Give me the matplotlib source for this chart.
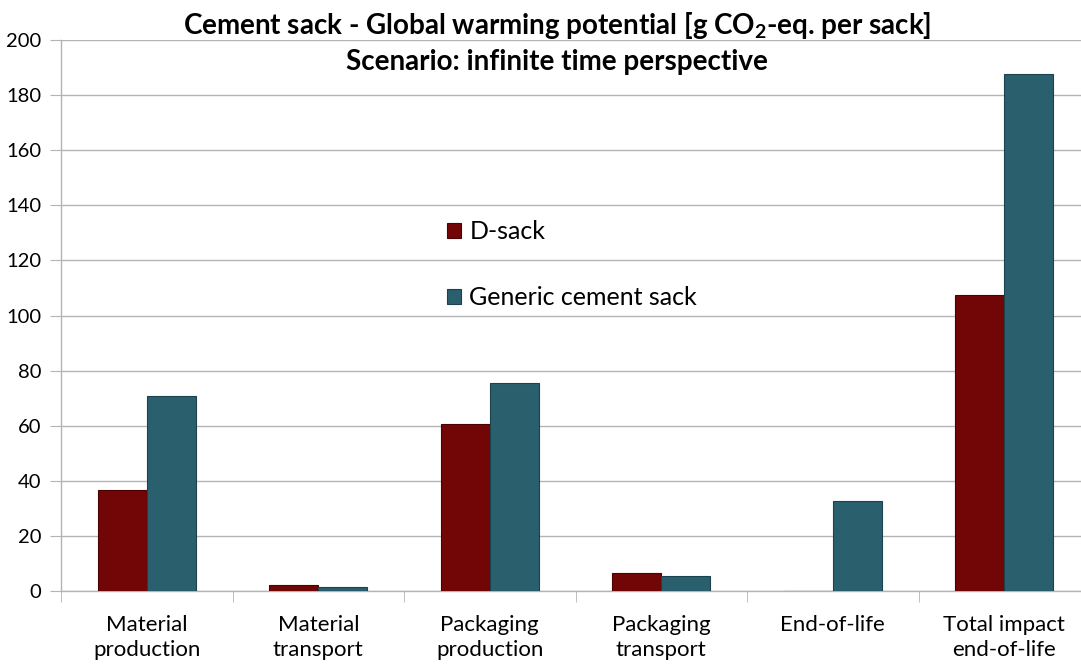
import numpy as np
import matplotlib
matplotlib.use("Agg")
import matplotlib.pyplot as plt

plt.rcParams['font.family'] = ['Lato', 'DejaVu Sans']
plt.rcParams['mathtext.fontset'] = 'custom'
plt.rcParams['mathtext.rm'] = 'Lato'
plt.rcParams['mathtext.bf'] = 'Lato:bold'

# Data
categories = ["Material\nproduction", "Material\ntransport", "Packaging\nproduction",
              "Packaging\ntransport", "End-of-life", "Total impact\nend-of-life"]
d_sack = [36.7, 2.2, 60.7, 6.5, 0.0, 107.5]
generic_sack = [70.8, 1.4, 75.5, 5.4, 32.8, 187.5]
series_names = ["D-sack", "Generic cement sack"]
y_ticks = [0, 20, 40, 60, 80, 100, 120, 140, 160, 180, 200]

RED = "#720606"
TEAL = "#2a5f6e"
GRID = "#b4b4b4"

fig = plt.figure(figsize=(10.81, 6.66), dpi=100)
ax = fig.add_axes([61 / 1081, 1 - 591 / 666, 1029 / 1081, 551 / 666])

x = np.arange(len(categories))
w = 0.285
ax.bar(x - w / 2, d_sack, w, color=RED, edgecolor="#4a0202", linewidth=0.8,
       label=series_names[0], zorder=3)
ax.bar(x + w / 2, generic_sack, w, color=TEAL, edgecolor="#1c424d", linewidth=0.8,
       label=series_names[1], zorder=3)

ax.set_xlim(-0.5, len(categories) - 0.5)
ax.set_ylim(0, 200)
ax.set_yticks(y_ticks)
ax.set_xticks(x)
ax.set_xticklabels(categories, fontsize=16, linespacing=1.35)
ax.set_xticks(np.arange(-0.5, len(categories), 1.0), minor=True)
ax.tick_params(axis='x', which='major', length=0, pad=17)
ax.tick_params(axis='x', which='minor', length=8, color=GRID, direction='out')
ax.tick_params(axis='y', length=8, color=GRID, labelsize=14.5, pad=6)

ax.yaxis.grid(True, color=GRID, linewidth=1.0, zorder=0)
for s in ['top', 'right']:
    ax.spines[s].set_visible(False)
for s in ['left', 'bottom']:
    ax.spines[s].set_color(GRID)
    ax.spines[s].set_linewidth(1.0)

ax.legend(loc='upper left', bbox_to_anchor=(0.358, 0.705), frameon=False,
          fontsize=18, handlelength=0.55, handleheight=0.55, handletextpad=0.35,
          labelspacing=1.72, borderpad=0.2)

fig.text(0.515, 0.962, r"Cement sack - Global warming potential [g CO$_\mathbf{2}$-eq. per sack]",
         ha='center', va='center', fontsize=20, fontweight='bold')
fig.text(0.515, 0.907, "Scenario: infinite time perspective",
         ha='center', va='center', fontsize=20, fontweight='bold')

fig.savefig("out.png", dpi=100)
